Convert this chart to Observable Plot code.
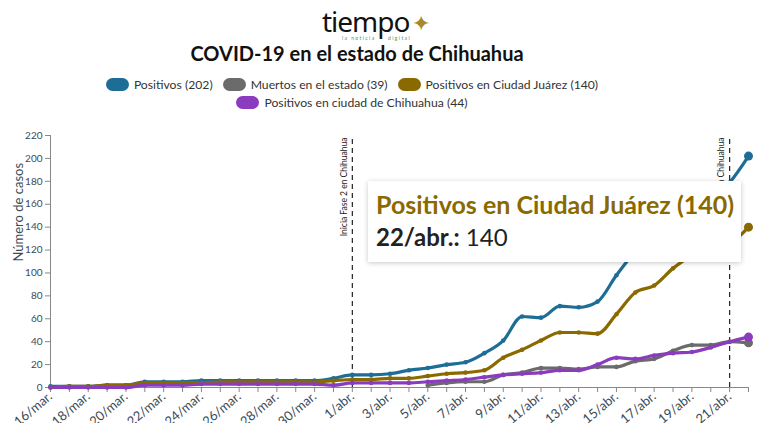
<!DOCTYPE html>
<html><head><meta charset="utf-8">
<script src="https://cdn.jsdelivr.net/npm/d3@7"></script>
<script src="https://cdn.jsdelivr.net/npm/@observablehq/plot@0.6"></script>
<style>
body{margin:0;background:#fff;font-family:Lato,"Open Sans",sans-serif;width:770px;height:423px;overflow:hidden;position:relative}
#logo{position:absolute;top:4px;left:322px;width:120px;height:40px}
#logo .t{position:absolute;left:0;top:0;font-family:"Noto Sans",sans-serif;font-size:28px;letter-spacing:-1px;color:#111;line-height:34px}
#logo .s{position:absolute;top:31px;font-size:5px;letter-spacing:1.4px;color:#4a9a4a;white-space:nowrap}
#logo .a{position:absolute;left:90px;top:6px;font-size:22px;color:#a8892a;line-height:26px}
#title{position:absolute;top:40px;left:0;width:714px;text-align:center;font-weight:bold;font-size:20px;line-height:26px;color:#111}
#legend{position:absolute;top:75px;left:0;width:704px;font-size:12.2px;color:#333}
#legend .row{display:flex;justify-content:center;height:18px;align-items:center}
#legend .it{display:flex;align-items:center;margin:0 5px}
#legend .sw{width:23px;height:13px;border-radius:7px;margin-right:5px}
#chart{position:absolute;top:120px;left:0}
#tip{position:absolute;left:368px;top:181px;width:373px;height:81px;background:#fff;box-shadow:0 1px 5px rgba(0,0,0,.22);box-sizing:border-box;padding:8px 0 0 8px}
#tip .a{font-weight:bold;font-size:25px;color:#8a6a00;line-height:30px;white-space:nowrap}
#tip .b{font-size:24px;color:#222;line-height:36px}
</style></head><body>
<div id="logo"><span class="t">tiempo</span><span class="s" style="left:20px">la noticia</span><span class="s" style="left:66px">digital</span><span class="a">&#x2726;</span></div>
<div id="title">COVID-19 en el estado de Chihuahua</div>
<div id="legend"></div>
<div id="chart"></div>
<div id="tip"><div class="a">Positivos en Ciudad Juárez (140)</div><div class="b"><b>22/abr.:</b> 140</div></div>
<script>
const dates = ["16/mar.","17/mar.","18/mar.","19/mar.","20/mar.","21/mar.","22/mar.","23/mar.","24/mar.","25/mar.","26/mar.","27/mar.","28/mar.","29/mar.","30/mar.","31/mar.",
"1/abr.","2/abr.","3/abr.","4/abr.","5/abr.","6/abr.","7/abr.","8/abr.","9/abr.","10/abr.","11/abr.","12/abr.","13/abr.","14/abr.","15/abr.","16/abr.","17/abr.","18/abr.","19/abr.","20/abr.","21/abr.","22/abr."];
const positivos = [1,1,1,2,2,5,5,5,6,6,6,6,6,6,6,8,11,11,12,15,17,20,22,30,41,62,61,71,70,75,98,118,127,140,152,165,179,202];
const muertos = [null,null,null,null,null,null,null,null,null,null,null,null,null,null,null,null,null,null,null,null,2,4,5,5,11,13,17,17,16,18,18,23,25,32,37,37,40,39];
const juarez = [0,1,1,2,2,4,4,4,4,5,5,5,5,5,5,6,7,7,8,8,10,12,13,15,26,33,41,48,48,47,64,83,89,104,115,120,125,140];
const chihuahuaCity = [0,0,0,0,0,2,2,2,3,3,3,3,3,3,3,2,4,4,4,4,5,6,7,9,11,12,13,15,15,20,26,25,28,30,31,35,40,44];
const seriesNames = ["Positivos (202)","Muertos en el estado (39)","Positivos en Ciudad Juárez (140)","Positivos en ciudad de Chihuahua (44)"];
const seriesColors = ["#1d6d96","#6b6b6b","#8a6a00","#8b3bbd"];
const yTicks = [0,20,40,60,80,100,120,140,160,180,200,220];
const events = [{date:"1/abr.", label:"Inicia Fase 2 en Chihuahua"},{date:"21/abr.", label:"Inicia Fase 3 en Chihuahua"}];

// legend
const leg = document.getElementById("legend");
[[0,1,2],[3]].forEach(r => {
  const row = document.createElement("div"); row.className = "row";
  r.forEach(i => {
    const it = document.createElement("div"); it.className = "it";
    it.innerHTML = `<span class="sw" style="background:${seriesColors[i]}"></span><span>${seriesNames[i]}</span>`;
    row.appendChild(it);
  });
  leg.appendChild(row);
});

const allSeries = [positivos, muertos, juarez, chihuahuaCity];
const data = [];
allSeries.forEach((arr, s) => arr.forEach((v, i) => { if (v != null) data.push({date: dates[i], value: v, series: seriesNames[s], last: i === dates.length - 1}); }));

const chart = Plot.plot({
  width: 770, height: 303,
  marginLeft: 50, marginRight: 22, marginTop: 15, marginBottom: 36,
  style: {fontFamily: "Lato, sans-serif", fontSize: "10px", color: "#3b4a57", background: "transparent", overflow: "visible"},
  x: {type: "point", domain: dates, padding: 0},
  y: {domain: [0, 220]},
  color: {domain: seriesNames, range: seriesColors},
  marks: [
    Plot.ruleX(events, {x: "date", y1: 0, y2: 220, stroke: "#222", strokeDasharray: "5,4", strokeWidth: 1.2}),
    Plot.text(events, {x: "date", y: 220, text: "label", rotate: -90, textAnchor: "end", dx: -8, dy: 2, fontSize: 8.5, fill: "#222"}),
    Plot.ruleY([0], {stroke: "#888"}),
    Plot.ruleX([dates[0]], {y1: 0, y2: 220, stroke: "#888"}),
    Plot.axisY({ticks: yTicks, tickSize: 5, tickPadding: 3, label: null, stroke: "#888", fontSize: 10}),
    Plot.text(["Número de casos"], {frameAnchor: "left", dx: -32, rotate: -90, fontSize: 13, fill: "#3b4a57"}),
    Plot.axisX({ticks: dates, tickSize: 5, tickFormat: () => "", label: null, stroke: "#888"}),
    Plot.axisX({ticks: dates.filter((d, i) => i % 2 === 0), tickSize: 0, tickPadding: 7, tickRotate: -40, label: null, fontSize: 13, fill: "#3b4a57"}),
    Plot.line(data, {x: "date", y: "value", z: "series", stroke: "series", strokeWidth: 3.2, curve: "monotone-x"}),
    Plot.dot(data, {x: "date", y: "value", fill: "series", r: 2.3}),
    Plot.dot(data.filter(d => d.last), {x: "date", y: "value", fill: "series", r: 4.5})
  ]
});
document.getElementById("chart").appendChild(chart);
</script>
</body></html>
